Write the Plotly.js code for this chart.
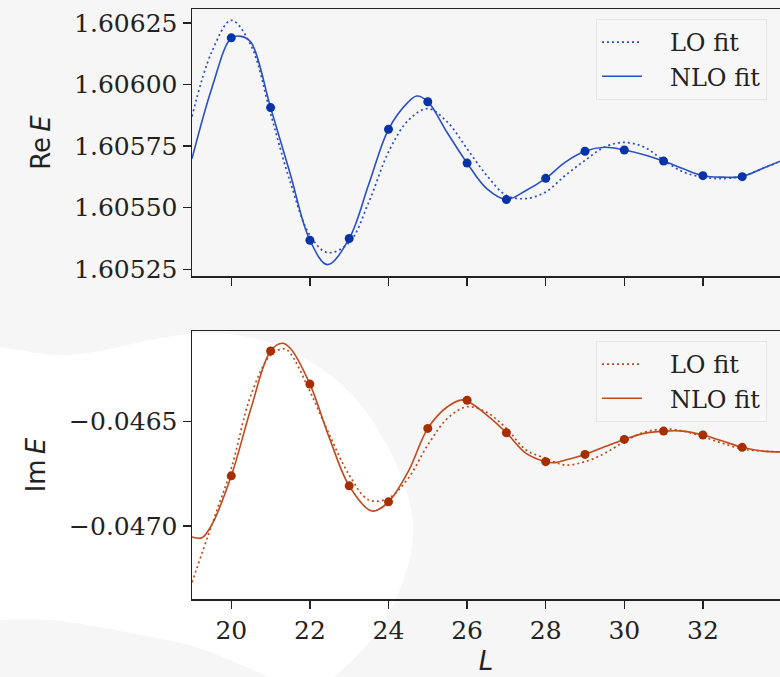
<!DOCTYPE html>
<html><head><meta charset="utf-8">
<script src="https://cdn.plot.ly/plotly-3.0.1.min.js"></script>
<style>html,body{margin:0;padding:0;background:#f6f6f6;overflow:hidden}</style>
</head><body><div id="chart" style="width:780px;height:677px"></div>
<script>
// lattice data points
const L_pts = [20,21,22,23,24,25,26,27,28,29,30,31,32,33];
const reE_pts = [1.606189,1.605906,1.605368,1.605375,1.605818,1.60593,1.605681,1.605533,1.605619,1.605729,1.605734,1.605689,1.60563,1.605626];
const imE_pts = [-0.04676,-0.04616,-0.046319,-0.046808,-0.046885,-0.046532,-0.046397,-0.046553,-0.046692,-0.046657,-0.046585,-0.046545,-0.046564,-0.046623];

// Re E fits
const L_reNLO = [19,19.5,20,20.25,20.5,21,21.5,22,22.45,23,23.5,24,24.5,24.72,25,25.5,26,26.5,27,27.5,28,28.5,29,29.5,30,30.5,31,31.5,32,32.5,33,33.5,34];
const reE_NLO = [1.605699,1.605983,1.606189,1.606195,1.606171,1.605906,1.605637,1.605368,1.605269,1.605375,1.605596,1.605818,1.605928,1.605953,1.60593,1.605803,1.605681,1.605577,1.605533,1.60557,1.605619,1.605685,1.605729,1.605745,1.605734,1.605715,1.605689,1.605658,1.60563,1.605624,1.605626,1.605658,1.605691];
const L_reLO = [19,19.5,20,20.5,21,21.5,22,22.45,23,23.5,24,24.5,25,25.5,26,26.5,27,27.5,28,28.5,29,29.5,30,30.5,31,31.5,32,32.5,33,33.5,34];
const reE_LO = [1.60587,1.606131,1.60626,1.606158,1.605881,1.605604,1.605388,1.605318,1.605359,1.605523,1.605726,1.605854,1.605902,1.605847,1.605739,1.605631,1.60555,1.605537,1.605564,1.605631,1.605692,1.605746,1.605765,1.605746,1.605692,1.605645,1.605624,1.605618,1.605628,1.605658,1.60569];

// Im E fits
const L_imNLO = [19,19.25,19.5,20,20.5,21,21.3,21.5,22,22.5,23,23.58,24,24.5,25,25.5,25.9,26.5,27,27.5,28,28.2,28.5,29,29.5,30,30.5,31,31.5,32,32.5,33,33.5,34];
const imE_NLO = [-0.047054,-0.047058,-0.046997,-0.04676,-0.046436,-0.04616,-0.046123,-0.046147,-0.046319,-0.04658,-0.046808,-0.046929,-0.046885,-0.04674,-0.046532,-0.046428,-0.046395,-0.046468,-0.046553,-0.046652,-0.046692,-0.046697,-0.046684,-0.046657,-0.04662,-0.046585,-0.046556,-0.046545,-0.046545,-0.046564,-0.046593,-0.046623,-0.046641,-0.046645];
const L_imLO = [19,19.5,20,20.5,21,21.35,21.5,22,22.5,23,23.5,24,24.5,25,25.5,26,26.5,27,27.5,28,28.5,29,29.5,30,30.5,31,31.5,32,32.5,33,33.5,34];
const imE_LO = [-0.047272,-0.046997,-0.046724,-0.046372,-0.04618,-0.04615,-0.04617,-0.046354,-0.046564,-0.046756,-0.046876,-0.046868,-0.046772,-0.046612,-0.046484,-0.046428,-0.046455,-0.046532,-0.046636,-0.046676,-0.046708,-0.046692,-0.046652,-0.046596,-0.046551,-0.046535,-0.046545,-0.046572,-0.046604,-0.046631,-0.046641,-0.046645];

const reTicks = [1.60525,1.6055,1.60575,1.606,1.60625];
const imTicks = [-0.047,-0.0465];
const xTicks = [20,22,24,26,28,30,32];
const seriesNames = ['LO fit','NLO fit'];

const BLUE_LINE = '#2a4fc4', BLUE_DOT = '#0633a6';
const RED_LINE = '#c04a1c', RED_DOT = '#a62e00';
const serif = 'DejaVu Serif', sans = 'DejaVu Sans';
const pad = '&nbsp;&nbsp;&nbsp;';
const DOT = '2px,3px';

const traces = [
  {x:L_reLO, y:reE_LO, xaxis:'x2', yaxis:'y2', mode:'lines', name:pad+seriesNames[0], legend:'legend2',
   line:{color:BLUE_LINE, width:1.7, dash:DOT, shape:'spline', smoothing:1}},
  {x:L_reNLO, y:reE_NLO, xaxis:'x2', yaxis:'y2', mode:'lines', name:pad+seriesNames[1], legend:'legend2',
   line:{color:BLUE_LINE, width:1.6, shape:'spline', smoothing:1}},
  {x:L_pts, y:reE_pts, xaxis:'x2', yaxis:'y2', mode:'markers', showlegend:false,
   marker:{color:BLUE_DOT, size:9}},
  {x:L_imLO, y:imE_LO, xaxis:'x', yaxis:'y', mode:'lines', name:pad+seriesNames[0], legend:'legend',
   line:{color:RED_LINE, width:1.7, dash:DOT, shape:'spline', smoothing:1}},
  {x:L_imNLO, y:imE_NLO, xaxis:'x', yaxis:'y', mode:'lines', name:pad+seriesNames[1], legend:'legend',
   line:{color:RED_LINE, width:1.6, shape:'spline', smoothing:1}},
  {x:L_pts, y:imE_pts, xaxis:'x', yaxis:'y', mode:'markers', showlegend:false,
   marker:{color:RED_DOT, size:9}}
];

// decorative background blob (pixel outline converted to paper coords)
const ML=192, MT=9, MB=78, W=780, H=677;
const PW=W-ML, PH=H-MT-MB;
function p(px,py){return ((px-ML)/PW).toFixed(4)+','+((H-MB-py)/PH).toFixed(4);}
const blob = 'M'+p(0,347)+' C'+p(30,352)+' '+p(50,356)+' '+p(67,355)+
  ' C'+p(110,353)+' '+p(150,336)+' '+p(200,333)+
  ' C'+p(260,329)+' '+p(330,360)+' '+p(367,413)+
  ' C'+p(400,460)+' '+p(418,510)+' '+p(412,545)+
  ' C'+p(405,600)+' '+p(370,650)+' '+p(330,680)+
  ' L'+p(275,680)+
  ' C'+p(230,660)+' '+p(200,645)+' '+p(167,640)+
  ' C'+p(110,630)+' '+p(60,615)+' '+p(0,620)+' Z';

const axCommon = {showline:true, linecolor:'#222', linewidth:1.5, ticks:'outside', ticklen:8, tickwidth:1.5,
  tickcolor:'#222', showgrid:false, zeroline:false, tickfont:{family:serif, size:25, color:'#222'}};

const legendCommon = {x:(596-ML)/PW, xanchor:'left', yanchor:'top', bgcolor:'rgba(247,247,247,0.85)',
  bordercolor:'#e4e4e4', borderwidth:1, font:{family:serif, size:24, color:'#222'}, itemwidth:40};

const layout = {
  width:W, height:H, margin:{l:ML, r:0, t:MT, b:MB},
  paper_bgcolor:'#f6f6f6', plot_bgcolor:'rgba(0,0,0,0)',
  showlegend:true,
  xaxis: Object.assign({}, axCommon, {anchor:'y', range:[19, 19+PW/39.3], tickvals:xTicks, mirror:true,
    title:{text:'<i>L</i>', font:{family:sans, size:26, color:'#222'}, standoff:8}}),
  xaxis2: Object.assign({}, axCommon, {anchor:'y2', matches:'x', range:[19, 19+PW/39.3], tickvals:xTicks,
    showticklabels:false, mirror:true}),
  yaxis: Object.assign({}, axCommon, {domain:[0, (H-MB-331)/PH], range:[-0.047352,-0.046064],
    tickvals:imTicks, tickformat:'.4f',
    title:{text:'Im\u2009<i>E</i>', font:{family:sans, size:26, color:'#222'}, standoff:16}}),
  yaxis2: Object.assign({}, axCommon, {domain:[(H-MB-276)/PH, 1], range:[1.605223,1.606306],
    tickvals:reTicks, tickformat:'.5f',
    title:{text:'Re\u2009<i>E</i>', font:{family:sans, size:26, color:'#222'}, standoff:16}}),
  legend: Object.assign({}, legendCommon, {y:(H-MB-341)/PH}),
  legend2: Object.assign({}, legendCommon, {y:(H-MB-19)/PH}),
  shapes:[{type:'path', xref:'paper', yref:'paper', path:blob, fillcolor:'#ffffff', line:{width:0}, layer:'below'}]
};

Plotly.newPlot('chart', traces, layout, {displayModeBar:false, staticPlot:true});
</script>
</body></html>
